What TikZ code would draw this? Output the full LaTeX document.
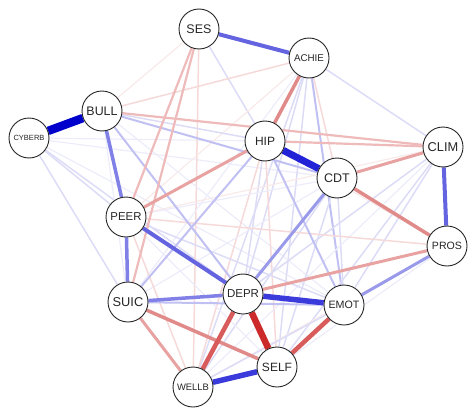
\documentclass[tikz,border=0pt]{standalone}
\usepackage{fontspec}
\setmainfont{Liberation Sans}
\pgfdeclarelayer{bg}
\pgfsetlayers{bg,main}
\definecolor{cA}{HTML}{0000CC}
\definecolor{cB}{HTML}{2222D6}
\definecolor{cC}{HTML}{3B3BDC}
\definecolor{cD}{HTML}{6464E0}
\definecolor{cE}{HTML}{8080E6}
\definecolor{cF}{HTML}{9A9AEA}
\definecolor{cG}{HTML}{C0C0F2}
\definecolor{cH}{HTML}{DCDCF7}
\definecolor{cI}{HTML}{ECECFB}
\definecolor{dA}{HTML}{CC2A2A}
\definecolor{dB}{HTML}{D85C5C}
\definecolor{dC}{HTML}{E08A8A}
\definecolor{dD}{HTML}{E8A2A2}
\definecolor{dE}{HTML}{EEBABA}
\definecolor{dF}{HTML}{F6D9D9}
\definecolor{dG}{HTML}{F9EAEA}
\newcommand{\fs}[1]{\fontsize{#1}{#1}\selectfont}
\tikzset{
  nd/.style={circle,draw=black!85,line width=0.9pt,fill=white,minimum size=40pt,inner sep=0pt,text=black!85},
  bA/.style={draw=cA,line width=8.5pt},
  bB/.style={draw=cB,line width=7pt},
  bC/.style={draw=cC,line width=5.5pt},
  bD/.style={draw=cD,line width=4pt},
  bE/.style={draw=cE,line width=3.5pt},
  bF/.style={draw=cF,line width=3pt},
  bG/.style={draw=cG,line width=2pt},
  bH/.style={draw=cH,line width=1.5pt},
  bI/.style={draw=cI,line width=1.2pt},
  rA/.style={draw=dA,line width=6.5pt},
  rB/.style={draw=dB,line width=4.5pt},
  rC/.style={draw=dC,line width=3.5pt},
  rD/.style={draw=dD,line width=3pt},
  rE/.style={draw=dE,line width=2.2pt},
  rF/.style={draw=dF,line width=1.5pt},
  rG/.style={draw=dG,line width=1.2pt},
}
\begin{document}
\begin{tikzpicture}[x=1pt,y=-1pt]
\useasboundingbox (0,0) rectangle (474,415);
\node[nd] (SES) at (199,29) {\fs{12.5}SES};
\node[nd] (ACHIE) at (309,58) {\fs{9.8}ACHIE};
\node[nd] (BULL) at (102,111) {\fs{12.4}BULL};
\node[nd] (CYBERB) at (29,138) {\fs{7.5}CYBERB};
\node[nd] (HIP) at (265,141) {\fs{12}HIP};
\node[nd] (CDT) at (337,178) {\fs{12.5}CDT};
\node[nd] (CLIM) at (443,147) {\fs{12.8}CLIM};
\node[nd] (PEER) at (126,217) {\fs{11.4}PEER};
\node[nd] (PROS) at (447,246) {\fs{10.6}PROS};
\node[nd] (SUIC) at (128,302) {\fs{12.8}SUIC};
\node[nd] (DEPR) at (243,294) {\fs{11.5}DEPR};
\node[nd] (EMOT) at (344,305) {\fs{10.7}EMOT};
\node[nd] (SELF) at (277,367) {\fs{12}SELF};
\node[nd] (WELLB) at (193,387) {\fs{9.4}WELLB};
\begin{pgfonlayer}{bg}
% faint edges
\draw[bI] (CYBERB) -- (HIP);
\draw[bI] (CYBERB) -- (CDT);
\draw[bH] (CYBERB) -- (PEER);
\draw[bH] (CYBERB) -- (SUIC);
\draw[bH] (CYBERB) -- (DEPR);
\draw[bI] (CYBERB) -- (EMOT);
\draw[rG] (SES) -- (BULL);
\draw[rF] (SES) -- (WELLB);
\draw[bH] (SES) -- (HIP);
\draw[rF] (ACHIE) -- (BULL);
\draw[bH] (ACHIE) -- (CLIM);
\draw[rF] (ACHIE) -- (CDT);
\draw[bH] (ACHIE) -- (DEPR);
\draw[bG] (ACHIE) -- (EMOT);
\draw[bH] (ACHIE) -- (SELF);
\draw[bH] (ACHIE) -- (WELLB);
\draw[bI] (ACHIE) -- (SUIC);
\draw[rG] (ACHIE) -- (PEER);
\draw[bH] (BULL) -- (HIP);
\draw[bI] (BULL) -- (SUIC);
\draw[bI] (BULL) -- (EMOT);
\draw[bH] (HIP) -- (DEPR);
\draw[rF] (HIP) -- (SELF);
\draw[rF] (HIP) -- (WELLB);
\draw[rG] (HIP) -- (PROS);
\draw[bH] (CDT) -- (EMOT);
\draw[bH] (CDT) -- (SELF);
\draw[bH] (CDT) -- (WELLB);
\draw[bI] (CDT) -- (SUIC);
\draw[bI] (CDT) -- (PEER);
\draw[bH] (CLIM) -- (DEPR);
\draw[bH] (CLIM) -- (EMOT);
\draw[bH] (CLIM) -- (SELF);
\draw[bI] (CLIM) -- (WELLB);
\draw[rG] (CLIM) -- (PEER);
\draw[rF] (PROS) -- (PEER);
\draw[bI] (PROS) -- (SELF);
\draw[rG] (PROS) -- (WELLB);
\draw[rF] (PEER) -- (WELLB);
\draw[bH] (PEER) -- (EMOT);
\draw[bI] (PEER) -- (SELF);
\draw[bH] (EMOT) -- (WELLB);
% light and medium edges
\draw[bG] (SUIC) -- (EMOT);
\draw[bG] (SUIC) -- (HIP);
\draw[bG] (BULL) -- (CDT);
\draw[bG] (BULL) -- (DEPR);
\draw[bG] (HIP) -- (EMOT);
\draw[rE] (BULL) -- (CLIM);
\draw[rE] (HIP) -- (CLIM);
\draw[rE] (SES) -- (PEER);
\draw[rE] (SES) -- (SUIC);
\draw[rD] (PEER) -- (HIP);
\draw[rD] (CLIM) -- (CDT);
\draw[rD] (DEPR) -- (PROS);
\draw[rD] (SUIC) -- (WELLB);
\draw[rC] (SUIC) -- (SELF);
\draw[rC] (ACHIE) -- (HIP);
\draw[rC] (CDT) -- (PROS);
\draw[bF] (EMOT) -- (PROS);
\draw[bF] (CDT) -- (DEPR);
\draw[bE] (BULL) -- (PEER);
\draw[bE] (PEER) -- (SUIC);
\draw[bE] (SUIC) -- (DEPR);
\draw[bD] (PEER) -- (DEPR);
\draw[bD] (SES) -- (ACHIE);
\draw[bD] (CLIM) -- (PROS);
\draw[rB] (EMOT) -- (SELF);
\draw[rB] (DEPR) -- (WELLB);
% strong edges
\draw[bC] (DEPR) -- (EMOT);
\draw[bC] (SELF) -- (WELLB);
\draw[rA] (DEPR) -- (SELF);
\draw[bB] (HIP) -- (CDT);
\draw[bA] (CYBERB) -- (BULL);
\end{pgfonlayer}
\end{tikzpicture}
\end{document}
